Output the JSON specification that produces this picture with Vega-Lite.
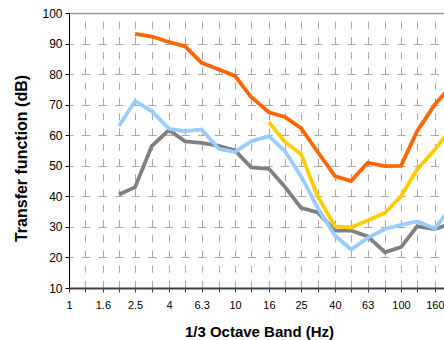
{
  "$schema": "https://vega.github.io/schema/vega-lite/v6.json",
  "width": 375,
  "height": 275,
  "autosize": {"type": "none"},
  "padding": {"left": 69, "top": 13, "right": 0, "bottom": 52},
  "background": "white",
  "config": {
    "view": {"stroke": null},
    "font": "Liberation Sans"
  },
  "data": {
    "values": [
      {"series": "1", "freq": 2, "db": 40.6},
      {"series": "1", "freq": 2.5, "db": 43.0},
      {"series": "1", "freq": 3.15, "db": 56.4},
      {"series": "1", "freq": 4, "db": 61.7},
      {"series": "1", "freq": 5, "db": 58.0},
      {"series": "1", "freq": 6.3, "db": 57.5},
      {"series": "1", "freq": 8, "db": 56.5},
      {"series": "1", "freq": 10, "db": 55.0},
      {"series": "1", "freq": 12.5, "db": 49.5},
      {"series": "1", "freq": 16, "db": 49.0},
      {"series": "1", "freq": 20, "db": 43.1},
      {"series": "1", "freq": 25, "db": 36.2},
      {"series": "1", "freq": 31.5, "db": 34.7},
      {"series": "1", "freq": 40, "db": 28.8},
      {"series": "1", "freq": 50, "db": 28.8},
      {"series": "1", "freq": 63, "db": 26.9},
      {"series": "1", "freq": 80, "db": 21.7},
      {"series": "1", "freq": 100, "db": 23.4},
      {"series": "1", "freq": 125, "db": 30.2},
      {"series": "1", "freq": 160, "db": 29.3},
      {"series": "1", "freq": 200, "db": 31.0},
      {"series": "2", "freq": 2, "db": 63.0},
      {"series": "2", "freq": 2.5, "db": 71.2},
      {"series": "2", "freq": 3.15, "db": 67.9},
      {"series": "2", "freq": 4, "db": 62.1},
      {"series": "2", "freq": 5, "db": 61.3},
      {"series": "2", "freq": 6.3, "db": 61.9},
      {"series": "2", "freq": 8, "db": 55.5},
      {"series": "2", "freq": 10, "db": 54.5},
      {"series": "2", "freq": 12.5, "db": 58.0},
      {"series": "2", "freq": 16, "db": 59.7},
      {"series": "2", "freq": 20, "db": 54.8},
      {"series": "2", "freq": 25, "db": 46.6},
      {"series": "2", "freq": 31.5, "db": 36.2},
      {"series": "2", "freq": 40, "db": 27.2},
      {"series": "2", "freq": 50, "db": 22.6},
      {"series": "2", "freq": 63, "db": 26.4},
      {"series": "2", "freq": 80, "db": 29.3},
      {"series": "2", "freq": 100, "db": 30.7},
      {"series": "2", "freq": 125, "db": 31.8},
      {"series": "2", "freq": 160, "db": 29.5},
      {"series": "2", "freq": 200, "db": 36.5},
      {"series": "3", "freq": 16, "db": 64.3},
      {"series": "3", "freq": 20, "db": 57.8},
      {"series": "3", "freq": 25, "db": 53.8},
      {"series": "3", "freq": 31.5, "db": 40.0},
      {"series": "3", "freq": 40, "db": 30.2},
      {"series": "3", "freq": 50, "db": 29.8},
      {"series": "3", "freq": 63, "db": 32.1},
      {"series": "3", "freq": 80, "db": 34.6},
      {"series": "3", "freq": 100, "db": 40.0},
      {"series": "3", "freq": 125, "db": 48.8},
      {"series": "3", "freq": 160, "db": 55.3},
      {"series": "3", "freq": 200, "db": 62.0},
      {"series": "4", "freq": 2.5, "db": 93.2},
      {"series": "4", "freq": 3.15, "db": 92.3},
      {"series": "4", "freq": 4, "db": 90.5},
      {"series": "4", "freq": 5, "db": 89.1},
      {"series": "4", "freq": 6.3, "db": 83.7},
      {"series": "4", "freq": 8, "db": 81.5},
      {"series": "4", "freq": 10, "db": 79.4},
      {"series": "4", "freq": 12.5, "db": 72.5},
      {"series": "4", "freq": 16, "db": 67.5},
      {"series": "4", "freq": 20, "db": 66.0},
      {"series": "4", "freq": 25, "db": 62.3},
      {"series": "4", "freq": 31.5, "db": 54.5},
      {"series": "4", "freq": 40, "db": 46.6},
      {"series": "4", "freq": 50, "db": 45.0},
      {"series": "4", "freq": 63, "db": 51.0},
      {"series": "4", "freq": 80, "db": 49.9},
      {"series": "4", "freq": 100, "db": 50.0},
      {"series": "4", "freq": 125, "db": 61.3},
      {"series": "4", "freq": 160, "db": 70.1},
      {"series": "4", "freq": 200, "db": 76.0}
    ]
  },
  "mark": {"type": "line", "strokeWidth": 3.8, "clip": true, "strokeJoin": "miter", "strokeCap": "butt"},
  "encoding": {
    "x": {
      "field": "freq",
      "type": "quantitative",
      "scale": {"type": "log", "domain": [1, 181.5], "nice": false},
      "axis": {
        "values": [1, 1.25, 1.6, 2, 2.5, 3.15, 4, 5, 6.3, 8, 10, 12.5, 16, 20, 25, 31.5, 40, 50, 63, 80, 100, 125, 160],
        "labelExpr": "indexof([1, 1.6, 2.5, 4, 6.3, 10, 16, 25, 40, 63, 100, 160], datum.value) >= 0 ? '' + datum.value : ''",
        "labelFont": "Liberation Sans",
        "labelFontSize": 11,
        "labelColor": "#000000",
        "labelPadding": 7,
        "labelFlush": false,
        "labelOverlap": false,
        "domainColor": "#404040",
        "domainWidth": 2,
        "tickColor": "#404040",
        "tickSize": 4,
        "tickWidth": 1,
        "grid": true,
        "gridColor": "#a8a8a8",
        "gridWidth": 1,
        "gridDash": [7, 8.25],
        "gridDashOffset": 7,
        "title": "1/3 Octave Band (Hz)",
        "titleFont": "Liberation Sans",
        "titleFontSize": 15,
        "titleFontWeight": "bold",
        "titleColor": "#000000",
        "titleAnchor": "start",
        "titleAlign": "center",
        "titleBaseline": "alphabetic",
        "titleX": 190,
        "titleY": 48
      }
    },
    "y": {
      "field": "db",
      "type": "quantitative",
      "scale": {"domain": [10, 100], "nice": false},
      "axis": {
        "values": [10, 20, 30, 40, 50, 60, 70, 80, 90, 100],
        "labelFont": "Liberation Sans",
        "labelFontSize": 12,
        "labelColor": "#000000",
        "labelPadding": 3,
        "labelFlush": false,
        "domainColor": "#000000",
        "domainWidth": 1,
        "tickColor": "#000000",
        "tickSize": 4,
        "grid": true,
        "gridColor": {"condition": {"test": "datum.value === 100", "value": "#999999"}, "value": "#a8a8a8"},
        "gridWidth": {"condition": {"test": "datum.value === 100", "value": 1.5}, "value": 1},
        "gridDash": {"condition": {"test": "datum.value === 100", "value": []}, "value": [8.3, 8.3]},
        "gridDashOffset": 4.15,
        "title": "Transfer function (dB)",
        "titleFont": "Liberation Sans",
        "titleFontSize": 16,
        "titleFontWeight": "bold",
        "titleColor": "#000000",
        "titleAngle": -90,
        "titleAlign": "center",
        "titleBaseline": "middle",
        "titleX": -48,
        "titleY": 145
      }
    },
    "color": {
      "field": "series",
      "type": "nominal",
      "scale": {"domain": ["1", "2", "3", "4"], "range": ["#808080", "#99CCFF", "#FFCC00", "#FF6600"]},
      "legend": null
    }
  }
}
